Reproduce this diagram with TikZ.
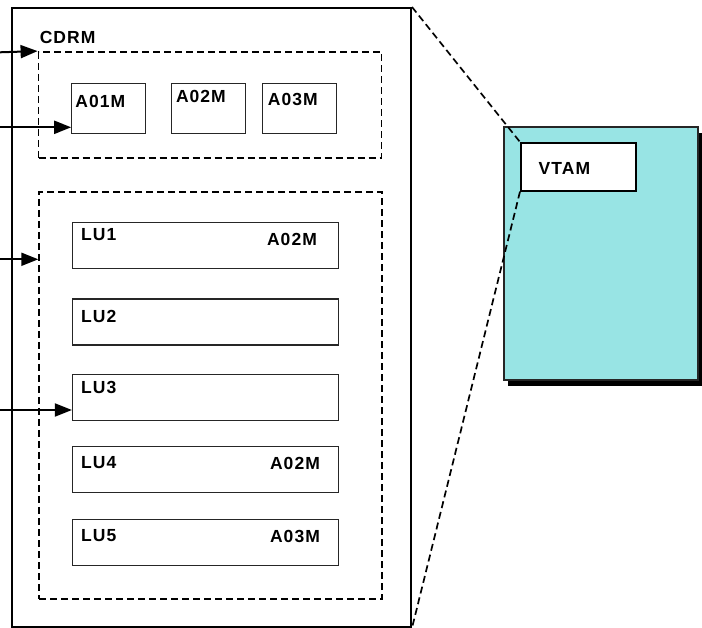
\documentclass[tikz,border=0pt]{standalone}
\usepackage{fontspec}
\newfontfamily\diagfont{Liberation Sans}[LetterSpace=6]
\usetikzlibrary{arrows.meta,positioning,shadows}
\definecolor{hostcyan}{RGB}{152,228,228}
\tikzset{
  outerbox/.style={draw,line width=2pt,inner sep=0pt,
                   minimum width=399pt,minimum height=619pt},
  groupbox/.style={draw,line width=1.8pt,dash pattern=on 7pt off 4pt,inner sep=0pt},
  appbox/.style={draw=black!85,line width=1pt,inner sep=0pt,
                 minimum width=74pt,minimum height=50pt},
  lubox/.style={draw=black!85,line width=1.2pt,inner sep=0pt,
                minimum width=266pt,minimum height=46pt},
  hostbox/.style={draw=black!85,line width=1.2pt,fill=hostcyan,inner sep=0pt,
                  minimum width=194pt,minimum height=253pt,
                  drop shadow={shadow xshift=4pt,shadow yshift=-6pt,opacity=1,fill=black}},
  vtambox/.style={draw,fill=white,line width=1.6pt,inner sep=0pt,
                  minimum width=115pt,minimum height=48pt},
  boxtext/.style={font=\diagfont\bfseries\fontsize{17.5}{20}\selectfont,inner sep=0pt},
  feed/.style={-{Triangle[length=17pt,width=13pt]},line width=2pt},
  zoomline/.style={line width=1.7pt,dash pattern=on 7pt off 4pt}
}
\begin{document}
\begin{tikzpicture}[x=1pt,y=-1pt]
  \useasboundingbox (0,0) rectangle (702,628);

  % network node with its two groups
  \node[outerbox] (outer) at (211.5,317.5) {};
  \node[groupbox,minimum width=343pt,minimum height=106pt] (cdrmgrp) at (210,105) {};
  \node[boxtext,above right=7pt and 2pt of cdrmgrp.north west] (cdrmtext) {CDRM};

  \node[appbox] (a01) at (108.7,108.3) {};
  \node[appbox] (a02) at (208.3,108.3) {};
  \node[appbox] (a03) at (299.2,108.3) {};
  \node[boxtext,below right=12pt and 4pt of a01.north west] (a01text) {A01M};
  \node[boxtext,below right=7pt and 5pt of a02.north west] (a02text) {A02M};
  \node[boxtext,below right=10pt and 6pt of a03.north west] (a03text) {A03M};

  \node[groupbox,minimum width=343pt,minimum height=407pt] (lugrp) at (210.7,395.5) {};
  \node[lubox] (lu1) at (205.5,245.8) {};
  \node[lubox] (lu2) at (205.5,322) {};
  \node[lubox] (lu3) at (205.5,397.8) {};
  \node[lubox] (lu4) at (205.5,469.7) {};
  \node[lubox] (lu5) at (205.5,542.7) {};
  \node[boxtext,below right=6pt and 9pt of lu1.north west] (lu1text) {LU1};
  \node[boxtext,below left=10.5pt and 22pt of lu1.north east] (lu1app) {A02M};
  \node[boxtext,below right=11.5pt and 9pt of lu2.north west] (lu2text) {LU2};
  \node[boxtext,below right=6.5pt and 9pt of lu3.north west] (lu3text) {LU3};
  \node[boxtext,below right=10.5pt and 9pt of lu4.north west] (lu4text) {LU4};
  \node[boxtext,below left=10.5pt and 19pt of lu4.north east] (lu4app) {A02M};
  \node[boxtext,below right=10.5pt and 9pt of lu5.north west] (lu5text) {LU5};
  \node[boxtext,below left=10.5pt and 19pt of lu5.north east] (lu5app) {A03M};

  % incoming requests
  \coordinate (in1) at (0,52.3);
  \coordinate (in2) at (0,127.3);
  \coordinate (in3) at (0,259.3);
  \coordinate (in4) at (0,410);
  \draw[feed] (in1) -- (cdrmgrp.north west);
  \draw[feed] (in2) -- (in2 -| a01.west);
  \draw[feed] (in3) -- (in3 -| lugrp.west);
  \draw[feed] (in4) -- (in4 -| lu3.west);

  % host
  \node[hostbox] (host) at (601,253.5) {};
  \node[vtambox] (vtam) at (578.3,166.8) {};
  \node[boxtext,below right=20.5pt and 18.5pt of vtam.north west] (vtamtext) {VTAM};

  \draw[zoomline] (outer.north east) -- (vtam.north west);
  \draw[zoomline] (vtam.south west) -- (outer.south east);
\end{tikzpicture}
\end{document}
